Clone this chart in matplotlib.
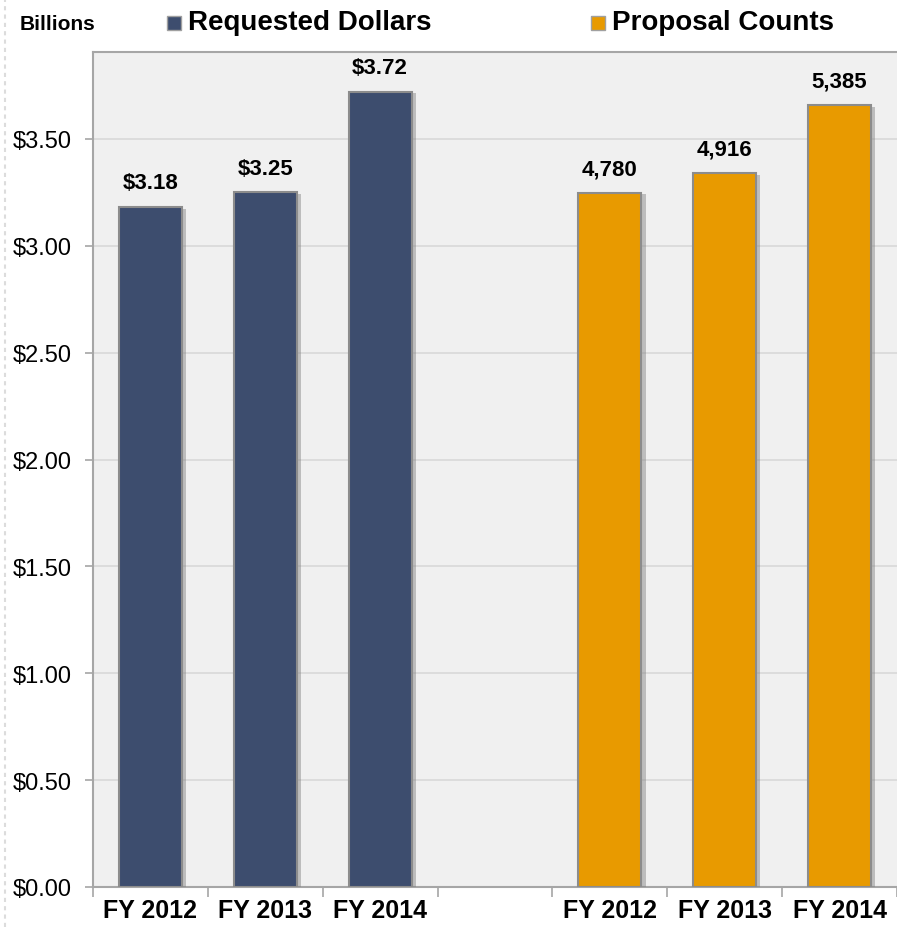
import matplotlib
matplotlib.use("Agg")
import matplotlib.pyplot as plt
from matplotlib.patches import Rectangle
from matplotlib.lines import Line2D
import matplotlib.patheffects as pe

plt.rcParams['font.family'] = ['Liberation Sans', 'DejaVu Sans']

years = ["FY 2012", "FY 2013", "FY 2014"]
dollars = [3.18, 3.25, 3.72]          # billions
counts = [4780, 4916, 5385]
dollar_labels = ["$3.18", "$3.25", "$3.72"]
count_labels = ["4,780", "4,916", "5,385"]
yticks = [0.0, 0.5, 1.0, 1.5, 2.0, 2.5, 3.0, 3.5]

blue = "#3d4d6e"
orange = "#e89a00"
edge = "#8c8c8c"

fig = plt.figure(figsize=(8.97, 9.28), dpi=100)
ax = fig.add_axes([93/897, 40/928, 1 - 93/897, (888-53)/928])
ax.set_facecolor("#f0f0f0")

ymax = 3.907
ax.set_ylim(0, ymax)
ax.set_xlim(-0.5, 6.5)
ax2 = ax.twinx()
ax2.set_ylim(0, ymax * 1472)
ax2.set_xlim(-0.5, 6.5)
ax2.axis("off")

shadow = [pe.SimplePatchShadow(offset=(3, -1), shadow_rgbFace="#808080", alpha=0.45), pe.Normal()]

xb = [0, 1, 2]
xo = [4, 5, 6]
bars1 = ax.bar(xb, dollars, width=0.55, color=blue, edgecolor=edge, linewidth=1.5, zorder=3)
bars2 = ax2.bar(xo, counts, width=0.55, color=orange, edgecolor=edge, linewidth=1.5, zorder=3)
for b in list(bars1) + list(bars2):
    b.set_path_effects(shadow)

for x, v, t in zip(xb, dollars, dollar_labels):
    ax.annotate(t, (x, v), xytext=(0, 10), textcoords="offset points", ha="center",
                va="bottom", fontsize=16, fontweight="bold", color="#000000")
for x, v, t in zip(xo, counts, count_labels):
    ax2.annotate(t, (x, v), xytext=(0, 10), textcoords="offset points", ha="center",
                 va="bottom", fontsize=16, fontweight="bold", color="#000000")

ax.set_yticks(yticks)
ax.set_yticklabels([f"${v:.2f}" for v in yticks], fontsize=17)
ax.yaxis.grid(True, color="#d9d9d9", linewidth=1.2, zorder=0)
ax.set_axisbelow(True)
ax.tick_params(axis="y", length=6, color="#a6a6a6", width=1.2, pad=9)

ax.set_xticks(xb + xo)
ax.set_xticklabels(years + years, fontsize=18, fontweight="bold")
ax.set_xticks([i - 0.5 for i in range(8)], minor=True)
ax.tick_params(axis="x", which="major", length=0, pad=8)
ax.tick_params(axis="x", which="minor", length=7, color="#a6a6a6", width=1.2)

for s in ["left", "top", "bottom"]:
    ax.spines[s].set_color("#a6a6a6")
    ax.spines[s].set_linewidth(1.5)
ax.spines["right"].set_visible(False)

# header
fig.text(20/897, 1 - 24/928, "Billions", fontsize=15, fontweight="bold", va="center", ha="left")
fig.add_artist(Rectangle((167/897, 1 - 31/928), 14/897, 14/928, transform=fig.transFigure,
                         facecolor=blue, edgecolor="#a0a0a0", linewidth=1))
fig.text(188/897, 1 - 23/928, "Requested Dollars", fontsize=20, fontweight="bold", va="center", ha="left")
fig.add_artist(Rectangle((591/897, 1 - 31/928), 14/897, 14/928, transform=fig.transFigure,
                         facecolor=orange, edgecolor="#a0a0a0", linewidth=1))
fig.text(612/897, 1 - 23/928, "Proposal Counts", fontsize=20, fontweight="bold", va="center", ha="left")

fig.add_artist(Line2D([5/897, 5/897], [0, 1], transform=fig.transFigure, color="#dcdcdc",
                      linewidth=1.5, linestyle=(0, (2, 2))))

fig.savefig("out.png", dpi=100)
